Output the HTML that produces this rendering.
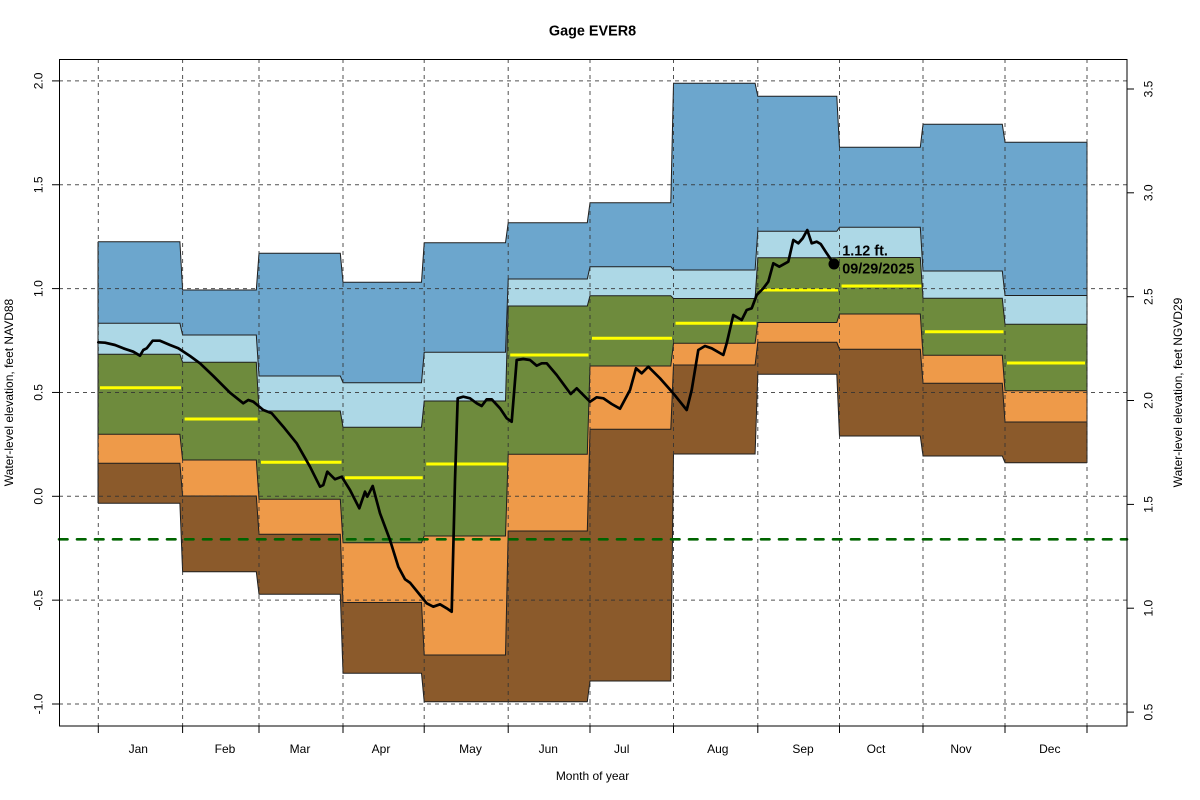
<!DOCTYPE html>
<html>
<head>
<meta charset="utf-8">
<style>
html,body{margin:0;padding:0;background:#fff;}
svg{display:block;}
text{font-family:"Liberation Sans",Arial,sans-serif;fill:#000;}
</style>
</head>
<body>
<svg width="1200" height="800" viewBox="0 0 1200 800" xmlns="http://www.w3.org/2000/svg">
<rect x="0" y="0" width="1200" height="800" fill="#fff"/>

<!-- bands: stacked fills -->
<polygon fill="#6CA6CD" points="98,241.7 179.9,241.7 182.6,290 256.3,290 259,253.3 340.3,253.3 343,282.3 421.5,282.3 424.2,242.7 505.5,242.7 508.2,222.7 587.3,222.7 590,202.7 670.8,202.7 673.5,83.3 755.1,83.3 757.8,96.3 836.8,96.3 839.5,147.3 920.3,147.3 923,124.3 1002.3,124.3 1005,142.3 1087,142.3 1087,725 98,725"/>
<polygon fill="#ADD8E6" points="98,323.3 179.9,323.3 182.6,335 256.3,335 259,376 340.3,376 343,382.7 421.5,382.7 424.2,352.3 505.5,352.3 508.2,279 587.3,279 590,266.7 670.8,266.7 673.5,270 755.1,270 757.8,231.3 836.8,231.3 839.5,227.3 920.3,227.3 923,271 1002.3,271 1005,295.5 1087,295.5 1087,725 98,725"/>
<polygon fill="#6E8B3D" points="98,354.3 179.9,354.3 182.6,362.3 256.3,362.3 259,411 340.3,411 343,427.3 421.5,427.3 424.2,401 505.5,401 508.2,306 587.3,306 590,295.7 670.8,295.7 673.5,298.5 755.1,298.5 757.8,257.7 836.8,257.7 839.5,257.5 920.3,257.5 923,298.3 1002.3,298.3 1005,324.3 1087,324.3 1087,725 98,725"/>
<polygon fill="#EE9A49" points="98,434.3 179.9,434.3 182.6,460 256.3,460 259,499.3 340.3,499.3 343,542.7 421.5,542.7 424.2,536 505.5,536 508.2,454.2 587.3,454.2 590,366 670.8,366 673.5,343.3 755.1,343.3 757.8,322.5 836.8,322.5 839.5,314 920.3,314 923,355.3 1002.3,355.3 1005,390.8 1087,390.8 1087,725 98,725"/>
<polygon fill="#8B5A2B" points="98,463.3 179.9,463.3 182.6,496 256.3,496 259,534.3 340.3,534.3 343,602.5 421.5,602.5 424.2,655 505.5,655 508.2,531 587.3,531 590,429.3 670.8,429.3 673.5,365 755.1,365 757.8,342.3 836.8,342.3 839.5,349.3 920.3,349.3 923,383.3 1002.3,383.3 1005,422 1087,422 1087,725 98,725"/>
<polygon fill="#FFFFFF" points="98,503.3 179.9,503.3 182.6,571.7 256.3,571.7 259,594.3 340.3,594.3 343,673.3 421.5,673.3 424.2,701.7 505.5,701.7 508.2,701.7 587.3,701.7 590,681 670.8,681 673.5,454 755.1,454 757.8,374.3 836.8,374.3 839.5,436 920.3,436 923,456 1002.3,456 1005,462.7 1087,462.7 1087,726 98,726"/>

<!-- band borders -->
<g fill="none" stroke="#1e1e1e" stroke-width="1">
<polyline points="98,241.7 179.9,241.7 182.6,290 256.3,290 259,253.3 340.3,253.3 343,282.3 421.5,282.3 424.2,242.7 505.5,242.7 508.2,222.7 587.3,222.7 590,202.7 670.8,202.7 673.5,83.3 755.1,83.3 757.8,96.3 836.8,96.3 839.5,147.3 920.3,147.3 923,124.3 1002.3,124.3 1005,142.3 1087,142.3"/>
<polyline points="98,323.3 179.9,323.3 182.6,335 256.3,335 259,376 340.3,376 343,382.7 421.5,382.7 424.2,352.3 505.5,352.3 508.2,279 587.3,279 590,266.7 670.8,266.7 673.5,270 755.1,270 757.8,231.3 836.8,231.3 839.5,227.3 920.3,227.3 923,271 1002.3,271 1005,295.5 1087,295.5"/>
<polyline points="98,354.3 179.9,354.3 182.6,362.3 256.3,362.3 259,411 340.3,411 343,427.3 421.5,427.3 424.2,401 505.5,401 508.2,306 587.3,306 590,295.7 670.8,295.7 673.5,298.5 755.1,298.5 757.8,257.7 836.8,257.7 839.5,257.5 920.3,257.5 923,298.3 1002.3,298.3 1005,324.3 1087,324.3"/>
<polyline points="98,434.3 179.9,434.3 182.6,460 256.3,460 259,499.3 340.3,499.3 343,542.7 421.5,542.7 424.2,536 505.5,536 508.2,454.2 587.3,454.2 590,366 670.8,366 673.5,343.3 755.1,343.3 757.8,322.5 836.8,322.5 839.5,314 920.3,314 923,355.3 1002.3,355.3 1005,390.8 1087,390.8"/>
<polyline points="98,463.3 179.9,463.3 182.6,496 256.3,496 259,534.3 340.3,534.3 343,602.5 421.5,602.5 424.2,655 505.5,655 508.2,531 587.3,531 590,429.3 670.8,429.3 673.5,365 755.1,365 757.8,342.3 836.8,342.3 839.5,349.3 920.3,349.3 923,383.3 1002.3,383.3 1005,422 1087,422"/>
<polyline points="98,503.3 179.9,503.3 182.6,571.7 256.3,571.7 259,594.3 340.3,594.3 343,673.3 421.5,673.3 424.2,701.7 505.5,701.7 508.2,701.7 587.3,701.7 590,681 670.8,681 673.5,454 755.1,454 757.8,374.3 836.8,374.3 839.5,436 920.3,436 923,456 1002.3,456 1005,462.7 1087,462.7"/>
<line x1="98" y1="241.7" x2="98" y2="503.3"/>
<line x1="1087" y1="142.3" x2="1087" y2="462.7"/>
</g>

<!-- medians -->
<g stroke="#FFFF00" stroke-width="3" fill="none">
<line x1="100" y1="387.7" x2="181" y2="387.7"/>
<line x1="184.6" y1="419" x2="257.5" y2="419"/>
<line x1="261" y1="462.3" x2="341.5" y2="462.3"/>
<line x1="345" y1="477.7" x2="422.7" y2="477.7"/>
<line x1="426.2" y1="464" x2="506.7" y2="464"/>
<line x1="510.2" y1="355" x2="588.5" y2="355"/>
<line x1="592" y1="338.3" x2="672" y2="338.3"/>
<line x1="675.5" y1="323.3" x2="756.3" y2="323.3"/>
<line x1="759.8" y1="290" x2="838" y2="290"/>
<line x1="841.5" y1="286" x2="921.5" y2="286"/>
<line x1="925" y1="331.7" x2="1003.5" y2="331.7"/>
<line x1="1007" y1="363" x2="1085" y2="363"/>
</g>

<!-- grid -->
<g stroke="#333" stroke-width="1" stroke-dasharray="4,4" fill="none" opacity="0.85">
<line x1="59" y1="80.9" x2="1127" y2="80.9"/>
<line x1="59" y1="184.75" x2="1127" y2="184.75"/>
<line x1="59" y1="288.6" x2="1127" y2="288.6"/>
<line x1="59" y1="392.45" x2="1127" y2="392.45"/>
<line x1="59" y1="496.3" x2="1127" y2="496.3"/>
<line x1="59" y1="600.15" x2="1127" y2="600.15"/>
<line x1="59" y1="704" x2="1127" y2="704"/>
<line x1="98.3" y1="59" x2="98.3" y2="726"/>
<line x1="182.6" y1="59" x2="182.6" y2="726"/>
<line x1="259" y1="59" x2="259" y2="726"/>
<line x1="343" y1="59" x2="343" y2="726"/>
<line x1="424.2" y1="59" x2="424.2" y2="726"/>
<line x1="508.2" y1="59" x2="508.2" y2="726"/>
<line x1="590" y1="59" x2="590" y2="726"/>
<line x1="673.5" y1="59" x2="673.5" y2="726"/>
<line x1="757.8" y1="59" x2="757.8" y2="726"/>
<line x1="839.5" y1="59" x2="839.5" y2="726"/>
<line x1="923" y1="59" x2="923" y2="726"/>
<line x1="1005" y1="59" x2="1005" y2="726"/>
<line x1="1087" y1="59" x2="1087" y2="726"/>
</g>

<!-- green dashed reference line -->
<line x1="59" y1="539.3" x2="1127" y2="539.3" stroke="#006400" stroke-width="2.6" stroke-dasharray="8.5,9.5" stroke-linecap="round"/>

<!-- hydrograph -->
<path fill="none" stroke="#000" stroke-width="2.7" stroke-linejoin="round" stroke-linecap="round" d="M98.3,342.3 L105,342.7 115,345 123.3,348.3 133.3,351.7 140,355.7 143.3,350 146.7,348.3 152.7,340.7 160,340.7 170,345 178.3,348.3 190,356 200,363.3 213.3,376 230,392.7 243.3,403.3 248.3,400 253.3,401.7 263.3,410 271.7,413.3 283.3,426.7 296.7,443.3 310,466.7 320,486.7 323.3,485 327.3,471.7 335,479.3 341.7,476.7 350,490 359.3,508.3 365,491.7 367.3,496.7 372.7,486 380,513.3 390,540 398.3,566.7 405,579.3 410,582.7 420,595 426.7,603.3 433.3,606.7 440,604.3 446.7,608.3 451.7,611.7 455,480 457.7,398.3 463.3,396.7 470,398.3 476.7,403.3 481.7,406 486.7,399.3 491.7,399.3 500,408.3 506.7,418.3 511.7,421.7 516.7,360 523.3,359 530,360 536.7,365.7 541.7,363.3 546.7,363.3 556.7,375 570.7,394 576.7,388.3 580,391.7 590,401.7 596.7,397.3 603.3,398.3 611.7,404 620,408.7 630,390 636,368.3 641.7,373.3 648.3,366.7 660,378.3 673.3,393.3 686.7,410 691.7,390 698.3,350 705,346 711.7,348.3 723.3,355 726.7,343.3 733.3,315 741.7,320 746.7,310 751.7,308.3 756.7,295 763.3,288.3 768.3,281.7 773.3,263.3 779.3,266.7 788.3,261.7 793.3,240 798.3,243.3 802.7,238.3 807.3,230 811.7,243.3 816.7,241.7 820.7,244 826.7,253.3 834,264"/>
<circle cx="834" cy="264" r="5.5" fill="#000"/>
<text x="842.3" y="255.7" font-size="14.4" font-weight="bold">1.12 ft.</text>
<text x="842.3" y="273.3" font-size="14.4" font-weight="bold">09/29/2025</text>

<!-- box -->
<rect x="59.5" y="59.5" width="1067.5" height="666.5" fill="none" stroke="#000" stroke-width="1"/>

<!-- left ticks -->
<g stroke="#000" stroke-width="1">
<line x1="52" y1="80.9" x2="59" y2="80.9"/>
<line x1="52" y1="184.75" x2="59" y2="184.75"/>
<line x1="52" y1="288.6" x2="59" y2="288.6"/>
<line x1="52" y1="392.45" x2="59" y2="392.45"/>
<line x1="52" y1="496.3" x2="59" y2="496.3"/>
<line x1="52" y1="600.15" x2="59" y2="600.15"/>
<line x1="52" y1="704" x2="59" y2="704"/>
<!-- right ticks -->
<line x1="1127" y1="89" x2="1134" y2="89"/>
<line x1="1127" y1="192.8" x2="1134" y2="192.8"/>
<line x1="1127" y1="296.7" x2="1134" y2="296.7"/>
<line x1="1127" y1="400.5" x2="1134" y2="400.5"/>
<line x1="1127" y1="504.4" x2="1134" y2="504.4"/>
<line x1="1127" y1="608.2" x2="1134" y2="608.2"/>
<line x1="1127" y1="712.1" x2="1134" y2="712.1"/>
<!-- bottom ticks -->
<line x1="98.3" y1="726" x2="98.3" y2="733"/>
<line x1="182.6" y1="726" x2="182.6" y2="733"/>
<line x1="259" y1="726" x2="259" y2="733"/>
<line x1="343" y1="726" x2="343" y2="733"/>
<line x1="424.2" y1="726" x2="424.2" y2="733"/>
<line x1="508.2" y1="726" x2="508.2" y2="733"/>
<line x1="590" y1="726" x2="590" y2="733"/>
<line x1="673.5" y1="726" x2="673.5" y2="733"/>
<line x1="757.8" y1="726" x2="757.8" y2="733"/>
<line x1="839.5" y1="726" x2="839.5" y2="733"/>
<line x1="923" y1="726" x2="923" y2="733"/>
<line x1="1005" y1="726" x2="1005" y2="733"/>
<line x1="1087" y1="726" x2="1087" y2="733"/>
</g>

<!-- left tick labels -->
<g font-size="12" text-anchor="middle">
<text transform="translate(42.5,80.9) rotate(-90)">2.0</text>
<text transform="translate(42.5,184.75) rotate(-90)">1.5</text>
<text transform="translate(42.5,288.6) rotate(-90)">1.0</text>
<text transform="translate(42.5,392.45) rotate(-90)">0.5</text>
<text transform="translate(42.5,496.3) rotate(-90)">0.0</text>
<text transform="translate(42.5,600.15) rotate(-90)">-0.5</text>
<text transform="translate(42.5,704) rotate(-90)">-1.0</text>
<!-- right tick labels -->
<text transform="translate(1152.5,89) rotate(-90)">3.5</text>
<text transform="translate(1152.5,192.8) rotate(-90)">3.0</text>
<text transform="translate(1152.5,296.7) rotate(-90)">2.5</text>
<text transform="translate(1152.5,400.5) rotate(-90)">2.0</text>
<text transform="translate(1152.5,504.4) rotate(-90)">1.5</text>
<text transform="translate(1152.5,608.2) rotate(-90)">1.0</text>
<text transform="translate(1152.5,712.1) rotate(-90)">0.5</text>
<!-- month labels -->
<text x="138.3" y="753">Jan</text>
<text x="225" y="753">Feb</text>
<text x="300" y="753">Mar</text>
<text x="381" y="753">Apr</text>
<text x="470.5" y="753">May</text>
<text x="548.3" y="753">Jun</text>
<text x="621.7" y="753">Jul</text>
<text x="717.8" y="753">Aug</text>
<text x="803" y="753">Sep</text>
<text x="876" y="753">Oct</text>
<text x="961" y="753">Nov</text>
<text x="1049.8" y="753">Dec</text>
<!-- axis titles -->
<text x="592.5" y="780">Month of year</text>
<text transform="translate(13,392.5) rotate(-90)">Water-level elevation, feet NAVD88</text>
<text transform="translate(1182,392.5) rotate(-90)">Water-level elevation, feet NGVD29</text>
</g>

<text x="592.5" y="35.5" font-size="14.4" font-weight="bold" text-anchor="middle">Gage EVER8</text>
</svg>
</body>
</html>
